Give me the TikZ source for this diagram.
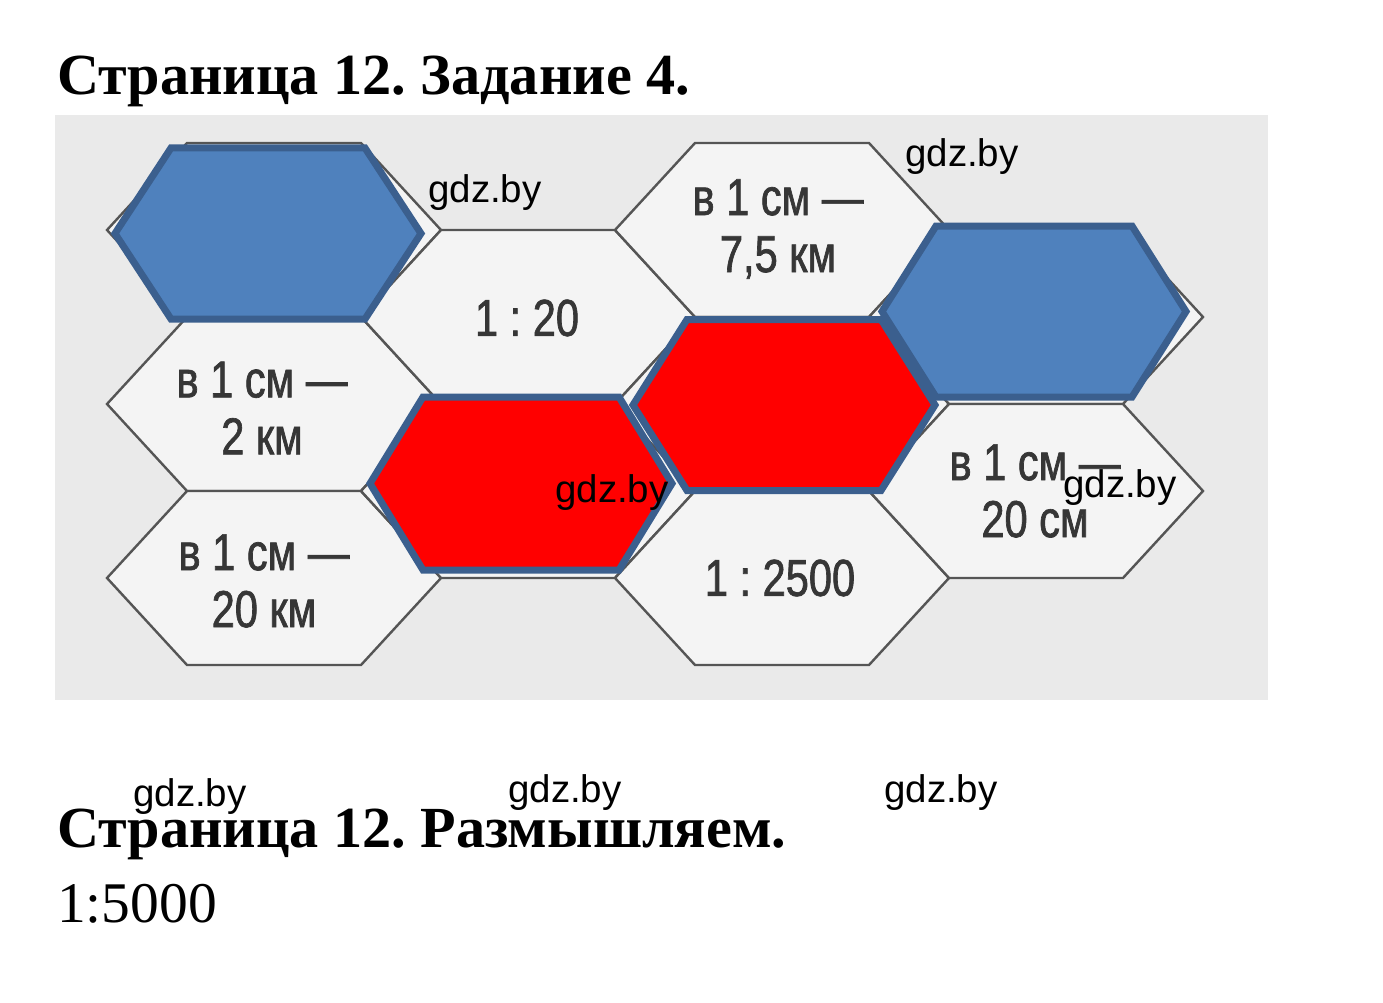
\documentclass[tikz,border=0pt]{standalone}
\usepackage{fontspec}
\setmainfont{Liberation Serif}
\newfontfamily\hexfont[FakeStretch=0.8,FakeBold=1.3]{Liberation Sans}
\newfontfamily\wmfont{Liberation Sans}
\definecolor{scanbg}{HTML}{EAEAEA}
\definecolor{hexfill}{HTML}{F4F4F4}
\definecolor{hexline}{HTML}{555555}
\definecolor{hextext}{HTML}{363636}
\definecolor{ofblue}{HTML}{4F81BD}
\definecolor{ofborder}{HTML}{3B5F8E}
\definecolor{ofred}{HTML}{FF0000}
% #1 style, #2 cx, #3 cy, #4 half width, #5 half top edge, #6 half height
\newcommand{\hexagonat}[6]{%
  \draw[#1] ({#2-#4},#3) -- ({#2-#5},{#3-#6}) -- ({#2+#5},{#3-#6}) --
    ({#2+#4},#3) -- ({#2+#5},{#3+#6}) -- ({#2-#5},{#3+#6}) -- cycle;}
\tikzset{
  grayhex/.style={fill=hexfill, draw=hexline, line width=2.4pt, line join=miter},
  bluehex/.style={fill=ofblue, draw=ofborder, line width=7pt, line join=miter},
  redhex/.style={fill=ofred, draw=ofborder, line width=7pt, line join=miter},
  hexlabel/.style={text=hextext, font=\hexfont\fontsize{52}{57}\selectfont, align=center, inner sep=0pt},
  watermark/.style={text=black, font=\wmfont\fontsize{38.5}{40}\selectfont, anchor=base west, inner sep=0pt},
  heading/.style={text=black, font=\bfseries\fontsize{58.2}{62}\selectfont, anchor=base west, inner sep=0pt},
}
\frenchspacing
\begin{document}
\begin{tikzpicture}[x=1pt,y=-1pt]
\useasboundingbox (0,0) rectangle (1383,1003);
\fill[white] (0,0) rectangle (1383,1003);
\fill[scanbg] (55,115) rectangle (1268,700);

% gray hex grid
\hexagonat{grayhex}{274}{230}{167}{87}{87}
\hexagonat{grayhex}{274}{404}{167}{87}{87}
\hexagonat{grayhex}{274}{578}{167}{87}{87}
\hexagonat{grayhex}{528}{317}{167}{87}{87}
\hexagonat{grayhex}{528}{491}{167}{87}{87}
\hexagonat{grayhex}{782}{230}{167}{87}{87}
\hexagonat{grayhex}{782}{404}{167}{87}{87}
\hexagonat{grayhex}{782}{578}{167}{87}{87}
\hexagonat{grayhex}{1036}{317}{167}{87}{87}
\hexagonat{grayhex}{1036}{491}{167}{87}{87}

% labels
\node[hexlabel] (l75) at (778,229) {в 1 см —\\7,5 км};
\node[hexlabel] (l20) at (527,318) {1 : 20};
\node[hexlabel] (l2km) at (262,408) {в 1 см —\\2 км};
\node[hexlabel] (l20km) at (264,581) {в 1 см —\\20 км};
\node[hexlabel] (l2500) at (780,578) {1 : 2500};
\node[hexlabel] (l20cm) at (1035,491) {в 1 см —\\20 см};

% coloured hexagons
\hexagonat{bluehex}{268}{233.5}{153}{97}{85.5}
\hexagonat{bluehex}{1034}{311.5}{152}{98}{85.5}
\hexagonat{redhex}{521}{483.5}{151}{98}{86.5}
\hexagonat{redhex}{784}{405}{151}{97}{85.5}

% watermarks
\node[watermark] (w1) at (428,203) {gdz.by};
\node[watermark] (w2) at (905,167) {gdz.by};
\node[watermark] (w3) at (555,502) {gdz.by};
\node[watermark] (w4) at (1063,497) {gdz.by};
\node[watermark] (w5) at (133,806) {gdz.by};
\node[watermark] (w6) at (508,802) {gdz.by};
\node[watermark] (w7) at (884,802) {gdz.by};

% headings
\node[heading] (h1) at (57,95) {Страница 12. Задание 4.};
\node[heading] (h2) at (57,847) {Страница 12. Размышляем.};
\node[text=black, font=\fontsize{57.5}{60}\selectfont, anchor=base west, inner sep=0pt] (ans) at (57,922) {1:5000};
\end{tikzpicture}
\end{document}
